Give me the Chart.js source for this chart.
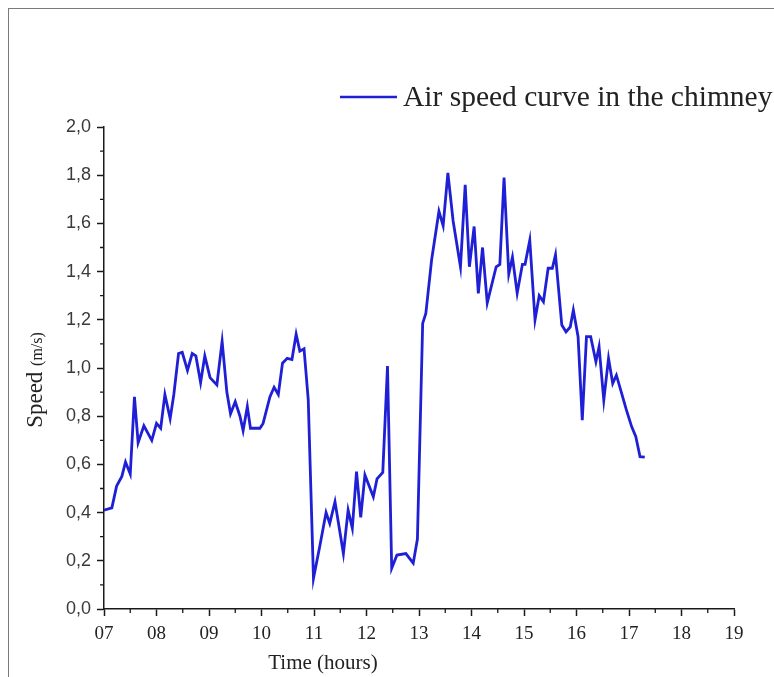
<!DOCTYPE html>
<html>
<head>
<meta charset="utf-8">
<script src="https://cdn.jsdelivr.net/npm/chart.js@4/dist/chart.umd.min.js"></script>
<style>
  html, body { margin: 0; padding: 0; background: #fff; }
  #wrap { position: relative; width: 774px; height: 677px; overflow: hidden; background: #fff; }
  #frame { position: absolute; left: 8px; top: 8px; width: 900px; height: 900px; border: 1px solid #7a7a7a; box-sizing: border-box; }
  #c { position: absolute; left: 0; top: 0; }
</style>
</head>
<body>
<div id="wrap">
  <div id="frame"></div>
  <canvas id="c" width="774" height="677"></canvas>
</div>
<script>
// Time of day (decimal hours) and measured air speed in the chimney (m/s)
const times = [
  7.00, 7.15, 7.24, 7.34, 7.41, 7.50, 7.58, 7.65, 7.76, 7.91,
  8.00, 8.08, 8.16, 8.26, 8.33, 8.42, 8.49, 8.59, 8.68, 8.75,
  8.84, 8.92, 9.02, 9.15, 9.25, 9.34, 9.41, 9.50, 9.59, 9.65,
  9.73, 9.79, 9.97, 10.03, 10.16, 10.24, 10.32, 10.40, 10.49, 10.58,
  10.66, 10.73, 10.81, 10.89, 10.99, 11.11, 11.23, 11.30, 11.40, 11.56,
  11.65, 11.73, 11.81, 11.89, 11.97, 12.13, 12.20, 12.31, 12.40, 12.48,
  12.58, 12.75, 12.89, 12.97, 13.07, 13.13, 13.24, 13.38, 13.46, 13.55,
  13.65, 13.79, 13.88, 13.96, 14.05, 14.13, 14.21, 14.30, 14.47, 14.54,
  14.62, 14.71, 14.78, 14.87, 14.97, 15.02, 15.11, 15.21, 15.29, 15.37,
  15.46, 15.54, 15.60, 15.72, 15.80, 15.88, 15.94, 16.03, 16.11, 16.19,
  16.27, 16.37, 16.43, 16.52, 16.61, 16.69, 16.76, 16.86, 16.95, 17.05,
  17.13, 17.21, 17.30
];
const speeds = [
  0.41, 0.42, 0.51, 0.55, 0.61, 0.56, 0.88, 0.69, 0.76, 0.70,
  0.77, 0.75, 0.89, 0.79, 0.89, 1.06, 1.065, 0.99, 1.06, 1.05,
  0.94, 1.05, 0.96, 0.93, 1.11, 0.90, 0.81, 0.86, 0.80, 0.74,
  0.84, 0.75, 0.75, 0.77, 0.88, 0.92, 0.89, 1.02, 1.04, 1.035,
  1.14, 1.07, 1.08, 0.87, 0.127, 0.26, 0.40, 0.355, 0.445, 0.23,
  0.41, 0.335, 0.57, 0.38, 0.556, 0.466, 0.54, 0.567, 1.008, 0.169,
  0.224, 0.23, 0.19, 0.29, 1.185, 1.226, 1.448, 1.65, 1.59, 1.81,
  1.61, 1.42, 1.76, 1.42, 1.587, 1.31, 1.50, 1.27, 1.42, 1.43,
  1.79, 1.39, 1.46, 1.31, 1.43, 1.43, 1.53, 1.20, 1.30, 1.275,
  1.414, 1.414, 1.47, 1.178, 1.15, 1.17, 1.24, 1.13, 0.784, 1.13,
  1.13, 1.026, 1.088, 0.867, 1.04, 0.936, 0.97, 0.895, 0.826, 0.757,
  0.715, 0.632, 0.63
];

// Axis ticks
const hourTicks = [7, 8, 9, 10, 11, 12, 13, 14, 15, 16, 17, 18, 19];
const speedTicks = [0, 0.2, 0.4, 0.6, 0.8, 1.0, 1.2, 1.4, 1.6, 1.8, 2.0];

const seriesLabel = 'Air speed curve in the chimney';
const yTitleMain = 'Speed';
const yTitleUnit = '(m/s)';
const xTitle = 'Time (hours)';

const AXIS_COLOR = '#1a1a1a';
const LINE_COLOR = '#1f1fd6';
const SERIF = '"Liberation Serif", "DejaVu Serif", serif';
const SANS = '"Liberation Sans", Arial, sans-serif';

// Half-step minor ticks on both axes
const minorTicks = {
  id: 'minorTicks',
  afterDraw(chart) {
    const ctx = chart.ctx;
    const xs = chart.scales.x, ys = chart.scales.y;
    const area = chart.chartArea;
    ctx.save();
    ctx.strokeStyle = AXIS_COLOR;
    ctx.lineWidth = 1.3;
    ctx.beginPath();
    for (let i = 0; i < hourTicks.length - 1; i++) {
      const px = xs.getPixelForValue((hourTicks[i] + hourTicks[i + 1]) / 2);
      ctx.moveTo(px, area.bottom);
      ctx.lineTo(px, area.bottom + 4);
    }
    for (let i = 0; i < speedTicks.length - 1; i++) {
      const py = ys.getPixelForValue((speedTicks[i] + speedTicks[i + 1]) / 2);
      ctx.moveTo(area.left - 4, py);
      ctx.lineTo(area.left, py);
    }
    ctx.stroke();
    ctx.restore();
  }
};

// Axis titles (mixed sizes on the vertical title)
const axisTitles = {
  id: 'axisTitles',
  afterDraw(chart) {
    const ctx = chart.ctx;
    ctx.save();
    ctx.fillStyle = '#222';
    ctx.textBaseline = 'alphabetic';
    // vertical title
    ctx.translate(42, 380);
    ctx.rotate(-Math.PI / 2);
    ctx.font = '23px ' + SERIF;
    const wMain = ctx.measureText(yTitleMain + ' ').width;
    ctx.font = '16px ' + SERIF;
    const wUnit = ctx.measureText(yTitleUnit).width;
    let x0 = -(wMain + wUnit) / 2;
    ctx.font = '23px ' + SERIF;
    ctx.textAlign = 'left';
    ctx.fillText(yTitleMain + ' ', x0, 0);
    ctx.font = '16px ' + SERIF;
    ctx.fillText(yTitleUnit, x0 + wMain, 0);
    ctx.restore();

    ctx.save();
    ctx.fillStyle = '#222';
    ctx.font = '21px ' + SERIF;
    ctx.textAlign = 'center';
    ctx.textBaseline = 'alphabetic';
    ctx.fillText(xTitle, 323, 669);
    ctx.restore();
  }
};

// Legend entry drawn at the top right
const topLegend = {
  id: 'topLegend',
  afterDraw(chart) {
    const ctx = chart.ctx;
    const ds = chart.data.datasets[0];
    ctx.save();
    ctx.strokeStyle = ds.borderColor;
    ctx.lineWidth = 2.6;
    ctx.beginPath();
    ctx.moveTo(340, 97);
    ctx.lineTo(397, 97);
    ctx.stroke();
    ctx.fillStyle = '#222';
    ctx.font = '29.5px ' + SERIF;
    ctx.textAlign = 'left';
    ctx.textBaseline = 'alphabetic';
    ctx.fillText(ds.label, 403, 106);
    ctx.restore();
  }
};

new Chart(document.getElementById('c'), {
  type: 'line',
  data: {
    datasets: [{
      label: seriesLabel,
      data: times.map((t, i) => ({ x: t, y: speeds[i] })),
      borderColor: LINE_COLOR,
      borderWidth: 2.8,
      pointRadius: 0,
      tension: 0,
      fill: false
    }]
  },
  options: {
    responsive: false,
    animation: false,
    layout: { padding: { top: 127, right: 40, left: 0, bottom: 0 } },
    plugins: { legend: { display: false }, tooltip: { enabled: false } },
    scales: {
      x: {
        type: 'linear',
        min: 7,
        max: 19,
        afterBuildTicks: s => { s.ticks = hourTicks.map(v => ({ value: v })); },
        afterFit: s => { s.height = 68; },
        ticks: {
          callback: v => String(v).padStart(2, '0'),
          font: { family: SERIF, size: 19 },
          color: '#222',
          padding: 7,
          maxRotation: 0,
          autoSkip: false
        },
        grid: { drawOnChartArea: false, drawTicks: true, tickLength: 7, tickColor: AXIS_COLOR, tickWidth: 1.5 },
        border: { display: true, color: AXIS_COLOR, width: 1.5 }
      },
      y: {
        type: 'linear',
        min: 0,
        max: 2,
        afterBuildTicks: s => { s.ticks = speedTicks.map(v => ({ value: v })); },
        afterFit: s => { s.width = 104; },
        ticks: {
          callback: v => Number(v).toFixed(1).replace('.', ','),
          font: { family: SANS, size: 18 },
          color: '#3a3a3a',
          padding: 6,
          autoSkip: false
        },
        grid: { drawOnChartArea: false, drawTicks: true, tickLength: 7, tickColor: AXIS_COLOR, tickWidth: 1.5 },
        border: { display: true, color: AXIS_COLOR, width: 1.5 }
      }
    }
  },
  plugins: [minorTicks, axisTitles, topLegend]
});
</script>
</body>
</html>
